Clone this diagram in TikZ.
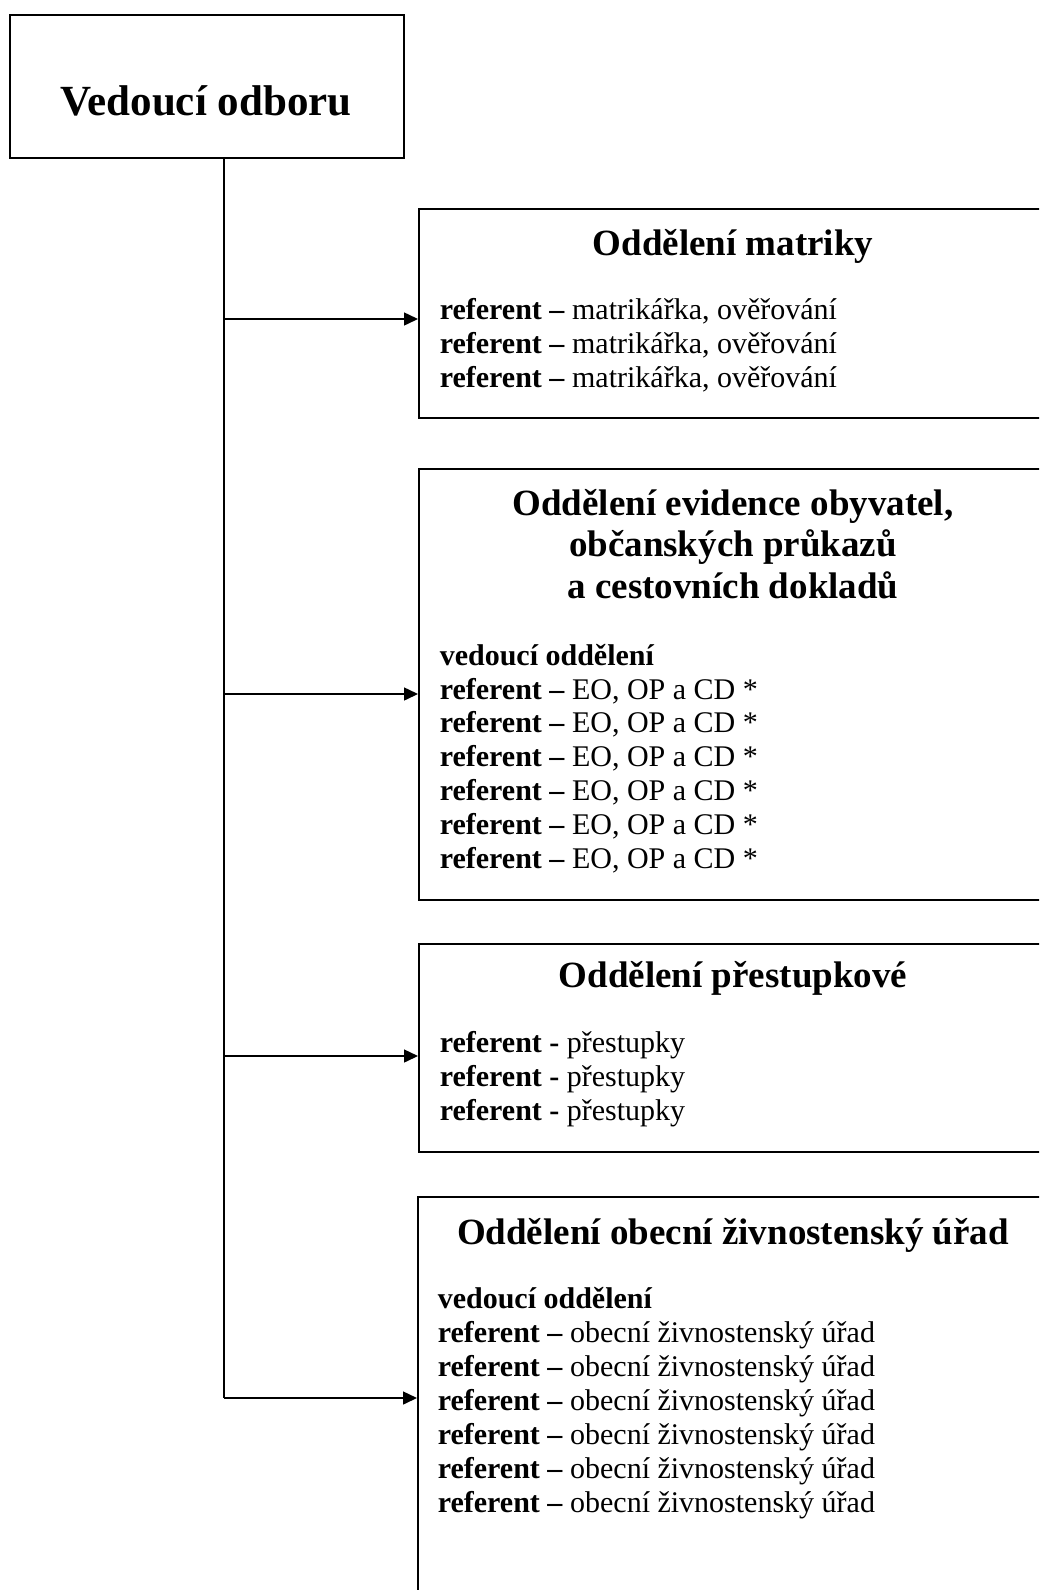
\documentclass[tikz,border=0pt]{standalone}
\usepackage{fontspec}
\setmainfont{Liberation Serif}
\usetikzlibrary{arrows.meta}

\tikzset{
  box/.style={draw, rectangle, anchor=north west, inner sep=0pt, minimum width=700},
  headtext/.style={font=\fontsize{43}{48}\selectfont\bfseries, anchor=base},
  title/.style={font=\fontsize{37}{42}\selectfont\bfseries, anchor=base},
  entry/.style={font=\fontsize{30}{34}\selectfont, anchor=base west, inner sep=0pt},
  link/.style={-{Triangle[length=14pt,width=13pt]}}
}

\begin{document}
\begin{tikzpicture}[x=1pt, y=-1pt, line width=1.5pt]
  \useasboundingbox (0,0) rectangle (1039,1590);
  \clip (0,0) rectangle (1039,1590);
  % head of the department
  \node[box, minimum width=394, minimum height=143] (head) at (9,14) {};
  \node[headtext] (headlabel) at (206,115) {Vedoucí odboru};
  % registry office
  \node[box, minimum height=209] (matriky) at (418,208) {};
  \node[title] (matrikytitle) at (733,255) {Oddělení matriky};
  \foreach \i/\y in {1/319, 2/353, 3/387}
    \node[entry] (matriky\i) at (439,\y) {\textbf{referent –} matrikářka, ověřování};
  % population records
  \node[box, minimum height=431] (evidence) at (418,468) {};
  \node[title] (evidencetitle1) at (733,515) {Oddělení evidence obyvatel,};
  \node[title] (evidencetitle2) at (733,556) {občanských průkazů};
  \node[title] (evidencetitle3) at (733,598) {a cestovních dokladů};
  \node[entry] (evidence0) at (439,665) {\textbf{vedoucí oddělení}};
  \foreach \i/\y in {1/699, 2/732, 3/766, 4/800, 5/834, 6/868}
    \node[entry] (evidence\i) at (439,\y) {\textbf{referent –} EO, OP a CD *};
  % offences
  \node[box, minimum height=208] (prestupky) at (418,943) {};
  \node[title] (prestupkytitle) at (733,987) {Oddělení přestupkové};
  \foreach \i/\y in {1/1052, 2/1086, 3/1120}
    \node[entry] (prestupky\i) at (439,\y) {\textbf{referent -} přestupky};
  % trade licensing
  \node[box, minimum height=500] (zivnost) at (417,1196) {};
  \node[title] (zivnosttitle) at (733,1244) {Oddělení obecní živnostenský úřad};
  \node[entry] (zivnost0) at (437,1308) {\textbf{vedoucí oddělení}};
  \foreach \i/\y in {1/1342, 2/1376, 3/1410, 4/1444, 5/1478, 6/1512}
    \node[entry] (zivnost\i) at (437,\y) {\textbf{referent –} obecní živnostenský úřad};
  % connectors
  \coordinate (s1) at (224,319);
  \coordinate (s2) at (224,694);
  \coordinate (s3) at (224,1056);
  \coordinate (s4) at (224,1398);
  \draw (head.south -| s1) -- (s4);
  \draw[link] (s1) -- (s1 -| matriky.west);
  \draw[link] (s2) -- (s2 -| evidence.west);
  \draw[link] (s3) -- (s3 -| prestupky.west);
  \draw[link] (s4) -- (s4 -| zivnost.west);
\end{tikzpicture}
\end{document}
